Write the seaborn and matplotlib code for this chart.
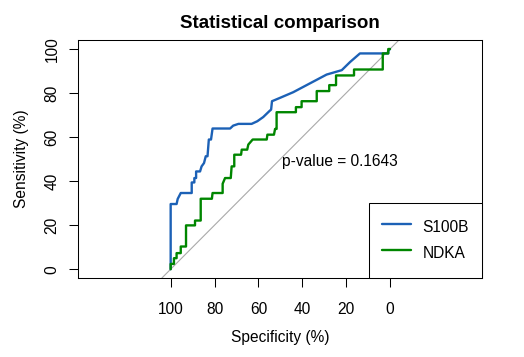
import numpy as np
import pandas as pd
import seaborn as sns
import matplotlib.pyplot as plt

# ROC points: (specificity %, sensitivity %)
s100b_spec = [100, 100, 97.3, 96.8, 95.4, 90.4, 90.4, 89.2, 89.2, 88.4, 88.4, 86.6, 85.9,
              84.8, 84.0, 83.2, 82.6, 81.6, 80.9, 72.9, 71.5, 69.1, 63.1, 60.5, 57.8, 55.0,
              54.2, 53.8, 50.2, 44.1, 36.5, 28.9, 22.0, 18.2, 13.7, 0.8, 0.8, 0]
s100b_sens = [0, 29.6, 29.6, 31.9, 34.6, 34.6, 39.4, 39.4, 41.4, 41.4, 44.4, 44.4, 46.7,
              48.2, 51.3, 51.3, 58.9, 58.9, 63.9, 63.9, 65.2, 66.0, 66.0, 67.2, 69.1, 71.8,
              72.5, 76.3, 77.8, 80.4, 84.4, 88.4, 90.4, 94.1, 98.0, 98.0, 99.2, 100]

ndka_spec = [100, 100, 98.5, 98.5, 97.3, 97.3, 95.4, 95.4, 93.0, 93.0, 88.9, 88.9, 86.3,
             86.3, 81.2, 80.9, 76.3, 76.3, 75.2, 72.6, 72.2, 71.0, 71.0, 67.9, 67.6, 65.1,
             64.6, 62.6, 56.2, 55.9, 52.9, 52.4, 51.7, 51.7, 42.9, 42.9, 40.3, 40.3, 33.4,
             33.4, 27.7, 27.7, 24.6, 24.6, 16.4, 16.4, 3.3, 3.3, 0.8, 0.8, 0]
ndka_sens = [0, 2.4, 2.4, 5.0, 5.0, 7.3, 7.3, 10.3, 10.3, 19.9, 19.9, 22.1, 22.1,
             32.0, 32.0, 34.6, 34.6, 38.8, 41.4, 41.4, 46.7, 46.7, 52.0, 52.0, 54.3, 54.3,
             56.6, 58.9, 58.9, 61.1, 61.1, 63.7, 63.7, 71.3, 71.3, 73.6, 73.6, 76.3, 76.3,
             80.9, 80.9, 83.6, 83.6, 88.0, 88.0, 90.7, 90.7, 98.0, 98.0, 100, 100]

markers = ["S100B", "NDKA"]
colors = ["#1c61b6", "#008600"]
p_value = "0.1643"

sns.set_theme(style="ticks", rc={
    "axes.edgecolor": "black",
    "axes.linewidth": 0.75,
    "xtick.color": "black",
    "ytick.color": "black",
    "text.color": "black",
    "axes.labelcolor": "black",
})
plt.rcParams['font.family'] = ['Liberation Sans', 'DejaVu Sans']

fs = 11.2

fig = plt.figure(figsize=(5.24, 3.57), dpi=100)
ax = fig.add_axes([78 / 524, 79 / 357, 404 / 524, 238 / 357])

# identity line
ax.axline((100, 0), (0, 100), color="darkgrey", linewidth=0.8, zorder=1)

curves = {
    "S100B": pd.DataFrame({"spec": s100b_spec, "sens": s100b_sens}),
    "NDKA": pd.DataFrame({"spec": ndka_spec, "sens": ndka_sens}),
}
for name, col in zip(markers, colors):
    sns.lineplot(data=curves[name], x="spec", y="sens", sort=False, estimator=None,
                 color=col, linewidth=1.7, label=name, ax=ax, zorder=2)

ax.set_xlim(142.25, -41.95)
ax.set_ylim(-4, 104.1)
ax.set_xticks([100, 80, 60, 40, 20, 0])
ax.set_yticks([0, 20, 40, 60, 80, 100])

ax.tick_params(direction="out", length=6.7, width=0.75, labelsize=fs)
ax.tick_params(axis="x", pad=10.4)
ax.tick_params(axis="y", pad=6.5, labelrotation=90)
for lab in ax.get_yticklabels():
    lab.set_va("center")

ax.set_xlabel("Specificity (%)", fontsize=fs, va="center")
ax.set_ylabel("Sensitivity (%)", fontsize=fs, va="center")
ax.xaxis.set_label_coords(0.5, -0.248)
ax.yaxis.set_label_coords(-0.1394, 0.5)

ax.set_title("Statistical comparison", fontsize=13.5, fontweight="bold",
             y=1.049, va="baseline", pad=0)

ax.text(49.4, 46.7, "p-value = " + p_value, fontsize=fs, ha="left", va="baseline")

leg = ax.legend(loc="lower right", bbox_to_anchor=(1, 0), borderaxespad=0,
                frameon=True, fancybox=False, edgecolor="black", framealpha=1,
                fontsize=fs, borderpad=0.84, handlelength=1.87, handletextpad=0.75,
                handleheight=1.9, labelspacing=0.2)
leg.get_frame().set_linewidth(0.75)

fig.savefig("out.png", dpi=100, facecolor="white")
